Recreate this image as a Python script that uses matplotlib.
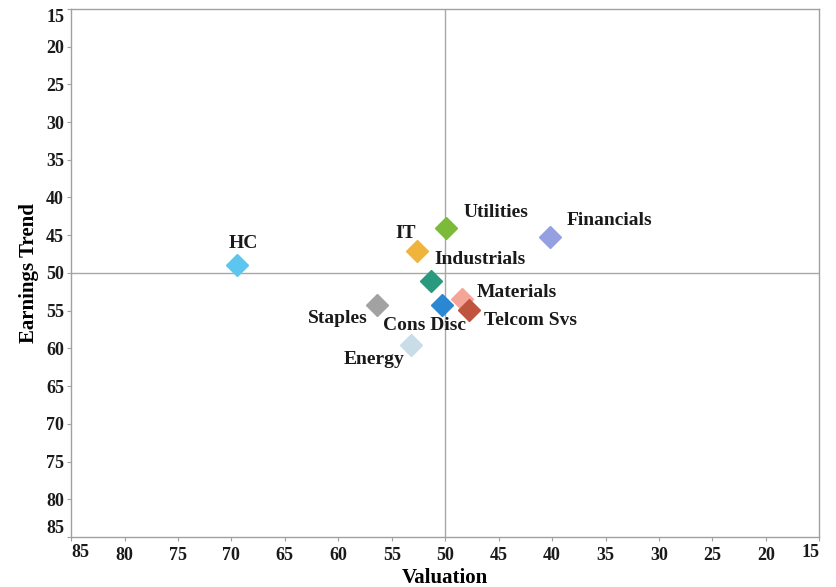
import matplotlib
matplotlib.use("Agg")
import matplotlib.pyplot as plt
import matplotlib.transforms as mtransforms

sectors = ["HC", "IT", "Utilities", "Financials", "Industrials", "Staples",
           "Cons Disc", "Materials", "Telcom Svs", "Energy"]
valuation = [69.5, 52.6, 49.9, 40.2, 51.3, 56.4, 50.3, 48.4, 47.8, 53.2]
earnings = [49.0, 47.1, 44.0, 45.2, 51.0, 54.2, 54.2, 53.5, 54.9, 59.6]
colors = ["#5cc6ee", "#f0b43c", "#7cbb38", "#95a0e0", "#2a9a7e", "#a2a2a2",
          "#2a87d2", "#f5a597", "#bf553f", "#c8dde8"]
ticks = list(range(15, 90, 5))

# label offsets in pixels (dx, dy), alignment
offsets = {
    "HC": (7, 22, "center"),
    "IT": (-12, 18, "center"),
    "Utilities": (17, 15, "left"),
    "Financials": (17, 16, "left"),
    "Industrials": (3, 21, "left"),
    "Staples": (-9, -14, "right"),
    "Cons Disc": (-17, -21, "center"),
    "Materials": (14, 7, "left"),
    "Telcom Svs": (15, -11, "left"),
    "Energy": (-7, -14, "right"),
}

font = "Liberation Serif"
tcol = "#1a1a1a"
fig = plt.figure(figsize=(8.36, 5.87), dpi=100)
ax = fig.add_axes([0.085, 0.085, 0.895, 0.9])
ax.set_xlim(85, 15)
ax.set_ylim(85, 15)

ax.axvline(50, color="#a8a8a8", lw=1, zorder=1)
ax.axhline(50, color="#a8a8a8", lw=1, zorder=1)

for s, x, y, c in zip(sectors, valuation, earnings, colors):
    ax.plot(x, y, marker="D", color=c, markersize=11.5, ls="none", zorder=3)
    dx, dy, ha = offsets[s]
    ax.annotate(s, (x, y), xytext=(dx, dy), textcoords="offset pixels",
                ha=ha, va="center", fontsize=14, fontweight="bold",
                family=font, color=tcol, zorder=4)

ax.set_xticks(ticks)
ax.set_yticks(ticks)
xlabels = [str(t) for t in ticks]
ax.set_xticklabels(["" if t in (15, 85) else l for t, l in zip(ticks, xlabels)])
ax.tick_params(axis="both", length=3, color="#a0a0a0", labelsize=13)
ax.tick_params(axis="y", pad=2)
ax.tick_params(axis="x", pad=4)
for lab in ax.get_xticklabels() + ax.get_yticklabels():
    lab.set_fontfamily(font)
    lab.set_fontweight("bold")
    lab.set_color(tcol)
yl = ax.get_yticklabels()
yl[0].set_va("top")
yl[-1].set_va("bottom")

trans = mtransforms.blended_transform_factory(ax.transData, ax.transAxes)
for t, ha in ((85, "left"), (15, "right")):
    ax.annotate(str(t), (t, 0), xycoords=trans, xytext=(0, -7),
                textcoords="offset pixels", ha=ha, va="top", fontsize=13,
                fontweight="bold", family=font, color=tcol, annotation_clip=False)

for sp in ax.spines.values():
    sp.set_color("#a0a0a0")
    sp.set_linewidth(1)

ax.set_xlabel("Valuation", family=font, fontweight="bold", fontsize=15, labelpad=3)
ax.set_ylabel("Earnings Trend", family=font, fontweight="bold", fontsize=15)
ax.yaxis.set_label_coords(-0.043, 0.5)

fig.savefig("out.png", dpi=100, facecolor="white")
